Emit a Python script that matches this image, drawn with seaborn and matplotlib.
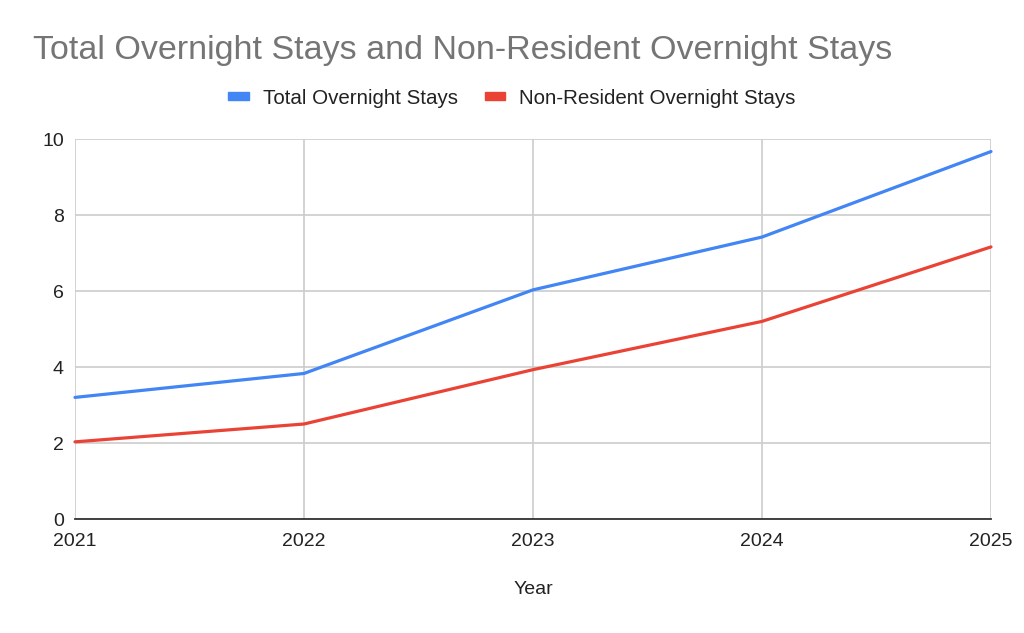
import matplotlib
matplotlib.use("Agg")
import matplotlib.pyplot as plt
from matplotlib.patches import Patch
import seaborn as sns
import pandas as pd

years = [2021, 2022, 2023, 2024, 2025]
total_stays = [3.2, 3.83, 6.03, 7.42, 9.67]
non_resident_stays = [2.03, 2.5, 3.93, 5.2, 7.16]
series_names = ["Total Overnight Stays", "Non-Resident Overnight Stays"]
colors = ["#4285F4", "#EA4335"]
y_ticks = [0, 2, 4, 6, 8, 10]

df = pd.DataFrame({
    "Year": years * 2,
    "Value": total_stays + non_resident_stays,
    "Series": [series_names[0]] * len(years) + [series_names[1]] * len(years),
})

sns.set_theme(style="white")
plt.rcParams["font.family"] = ["Liberation Sans", "DejaVu Sans"]

fig = plt.figure(figsize=(10.24, 6.33), dpi=100)
ax = fig.add_axes([75 / 1024, 1 - 519 / 633, (991 - 75) / 1024, (519 - 139) / 633])

sns.lineplot(data=df, x="Year", y="Value", hue="Series", palette=colors,
             linewidth=2.3, ax=ax, legend=False, zorder=3)

ax.set_xlim(2021, 2025)
ax.set_ylim(0, 10)
ax.set_xticks(years)
ax.set_xticklabels([str(y) for y in years])
ax.set_yticks(y_ticks)
ax.grid(True, color="#cccccc", linewidth=1.2, zorder=0)
for s in ["top", "right", "left"]:
    ax.spines[s].set_visible(False)
ax.spines["bottom"].set_color("#333333")
ax.spines["bottom"].set_linewidth(1.3)
ax.spines["bottom"].set_zorder(4)
ax.tick_params(axis="both", length=0, labelsize=14, labelcolor="#222222")
ax.tick_params(axis="x", pad=10)
ax.tick_params(axis="y", pad=8)
ax.set_xlabel("")
ax.set_ylabel("")
for line in ax.lines:
    line.set_clip_on(False)

fig.text(533 / 1024, 1 - 590 / 633, "Year", ha="center", va="center",
         fontsize=14, color="#222222")

fig.text(33 / 1024, 1 - 59 / 633, "Total Overnight Stays and Non-Resident Overnight Stays",
         ha="left", va="baseline", fontsize=24.5, color="#757575")

handles = [Patch(facecolor=c, edgecolor=c) for c in colors]
fig.legend(handles, series_names, loc="center", bbox_to_anchor=(512 / 1024, 1 - 98 / 633),
           ncol=2, frameon=False, fontsize=14.8, handlelength=1.0, handleheight=0.25,
           columnspacing=1.3, handletextpad=0.68, labelcolor="#222222")

fig.savefig("out.png", dpi=100)
